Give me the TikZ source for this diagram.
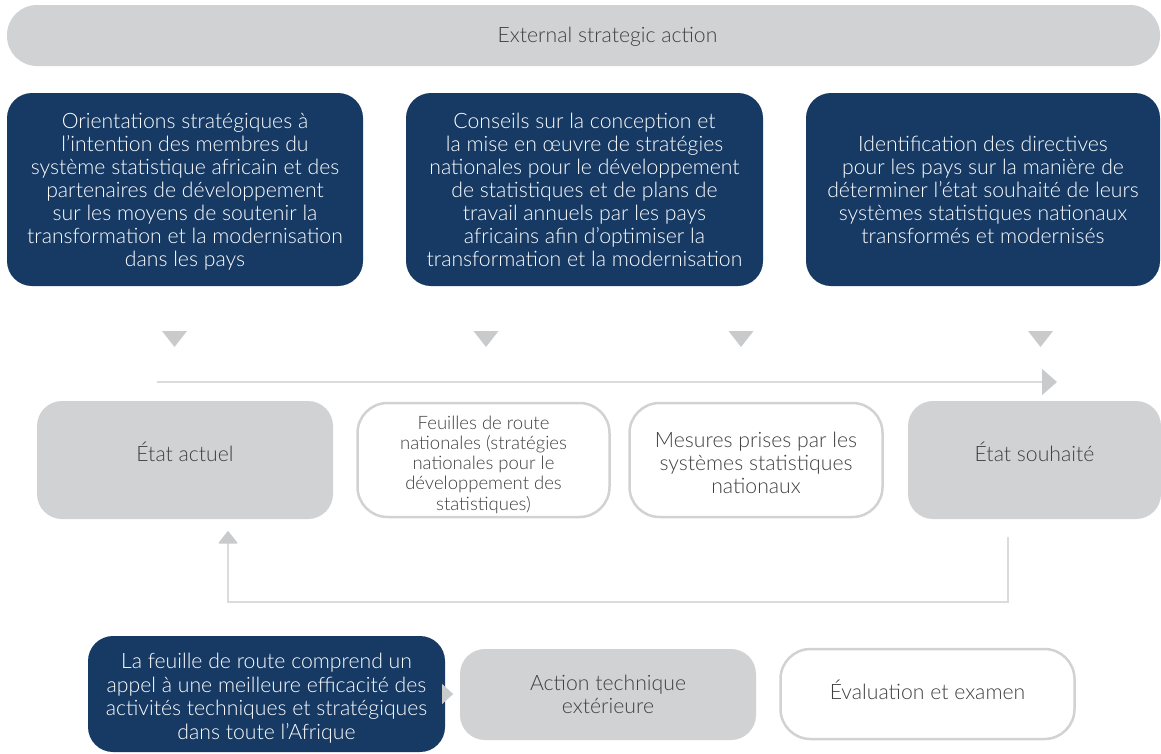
\documentclass[tikz,border=0pt]{standalone}
\usepackage{fontspec}
\setmainfont{Lato}[UprightFont={* Light}]
\usetikzlibrary{arrows.meta}
\definecolor{navy}{HTML}{173A64}
\definecolor{pale}{HTML}{D1D2D4}
\definecolor{tri}{HTML}{C9CACC}
\definecolor{ink}{HTML}{404041}
\definecolor{rule}{HTML}{DADBDC}
\newcommand{\textlift}[2]{\raisebox{#1}[\height][\depth]{#2}}
\newcommand{\textblock}[3]{\textlift{#1}{\parbox{#2}{\centering #3}}}

\begin{document}
\begin{tikzpicture}[x=1pt,y=-1pt,
    box/.style={rounded corners=25pt,align=center,inner sep=0pt,
        font=\fontsize{21.2}{23}\selectfont},
    darkbox/.style={box,fill=navy,text=white,minimum height=193pt},
    greybox/.style={box,fill=pale,text=ink},
    linebox/.style={box,draw=pale,line width=2.5pt,fill=white,text=ink,rounded corners=30pt},
    flow/.style={draw=rule,line width=1.5pt}]
    \useasboundingbox (0,0) rectangle (1161,753);
    % draw the strategic bar
    \node[greybox,rounded corners=30pt,minimum width=1153pt,minimum height=61pt] (external) at (583.5,35.5) {\hspace*{48pt}\textlift{-1pt}{External strategic action}};
    % draw the dark boxes
    \node[darkbox,minimum width=356pt] (orient) at (185,189.5) {\textblock{-2pt}{350pt}{Orientations stratégiques à\\l’intention des membres du\\système statistique africain et des\\partenaires de développement\\sur les moyens de soutenir la\\transformation et la modernisation\\dans les pays}};
    \node[darkbox,minimum width=357pt] (conseil) at (584.5,189.5) {Conseils sur la conception et\\la mise en œuvre de stratégies\\nationales pour le développement\\de statistiques et de plans de\\travail annuels par les pays\\africains afin d’optimiser la\\transformation et la modernisation};
    \node[darkbox,minimum width=354pt] (ident) at (983,189.5) {Identification des directives\\pour les pays sur la manière de\\déterminer l’état souhaité de leurs\\systèmes statistiques nationaux\\transformés et modernisés};
    % draw the small triangles
    \foreach \x in {174.5,486,741,1040.5}
        \fill[tri] (\x-12.5,331) -- (\x+12.5,331) -- (\x,347) -- cycle;
    % draw the main arrow
    \coordinate (start) at (157,382);
    \coordinate (finish) at (1057,382);
    \draw[flow,-{Triangle[length=15pt,width=26pt,color=tri]}] (start) -- (finish);
    % draw the middle row
    \node[greybox,minimum width=296pt,minimum height=118pt] (actuel) at (185,460) {\textlift{8pt}{État actuel}};
    \node[linebox,minimum width=252pt,minimum height=114pt,font=\fontsize{18.5}{20.3}\selectfont] (feuilles) at (483.5,460) {\textblock{-4.5pt}{230pt}{Feuilles de route\\nationales (stratégies\\nationales pour le\\développement des\\statistiques)}};
    \node[linebox,minimum width=253pt,minimum height=114pt] (mesures) at (756,460) {\textblock{-3pt}{230pt}{Mesures prises par les\\systèmes statistiques\\nationaux}};
    \node[greybox,minimum width=253pt,minimum height=118pt] (souhait) at (1034.5,460) {\textlift{8pt}{État souhaité}};
    % draw the feedback loop
    \draw[flow,shorten <=18pt,shorten >=12pt,-{Triangle[round,length=13pt,width=20pt,color=tri]}]
        ([xshift=-26.5pt]souhait.south) -- ++(0,83) -| ([xshift=43pt]actuel.south);
    % draw the bottom row
    \node[box,fill=navy,text=white,minimum width=357pt,minimum height=116pt,font=\fontsize{21.2}{23.5}\selectfont] (roadmap) at (266.5,694) {\textblock{-4pt}{350pt}{La feuille de route comprend un\\appel à une meilleure efficacité des\\activités techniques et stratégiques\\dans toute l’Afrique}};
    \node[greybox,minimum width=296pt,minimum height=91pt] (technique) at (608,694.5) {Action technique\\extérieure};
    \node[linebox,minimum width=294pt,minimum height=90pt] (evaluation) at (927.5,694) {\textlift{4pt}{Évaluation et examen}};
    \fill[tri] ([xshift=-3pt,yshift=10pt]roadmap.east) -- ++(11,10) -- ++(-11,10) -- cycle;
\end{tikzpicture}
\end{document}
